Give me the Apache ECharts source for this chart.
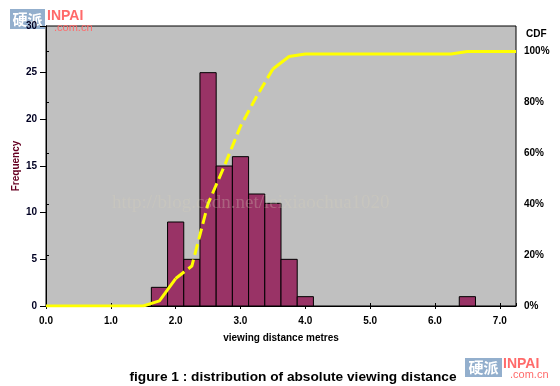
<!DOCTYPE html>
<html>
<head>
<meta charset="utf-8">
<script src="https://cdn.jsdelivr.net/npm/echarts@6/dist/echarts.min.js"></script>
<style>
html,body{margin:0;padding:0;background:#fff;}
#c{width:560px;height:386px;}
</style>
</head>
<body>
<div id="c"></div>
<script>
// Histogram bins (centre of each 0.25 m bin) and frequencies
const binCenters = [1.75, 2.0, 2.25, 2.5, 2.75, 3.0, 3.25, 3.5, 3.75, 4.0, 6.5];
const frequency  = [2, 9, 5, 25, 15, 16, 12, 11, 5, 1, 1];
const binWidth = 0.25;

// CDF curve (percent)
const cdfX = [0, 1.5, 1.75, 2.0, 2.25, 2.5, 2.75, 3.0, 3.25, 3.5, 3.75, 4.0, 6.25, 6.5, 7.25];
const cdfY = [0, 0, 2, 10.8, 15.7, 40.2, 54.9, 70.6, 82.4, 93.1, 98, 99, 99, 100, 100];

const xTicks = [0, 1, 2, 3, 4, 5, 6, 7];
const freqTicks = [0, 5, 10, 15, 20, 25, 30];
const cdfTicks = [0, 20, 40, 60, 80, 100];

const FONT = '"Liberation Sans", Arial, sans-serif';

const barData = binCenters.map((x, i) => [x, frequency[i]]);
const cdfPts = cdfX.map((x, i) => [x, cdfY[i]]);
// split into solid / dashed / solid parts as drawn in the reference
const cdfA = cdfPts.filter(p => p[0] <= 2.0);
const cdfB = cdfPts.filter(p => p[0] >= 2.0 && p[0] <= 3.5);
const cdfC = cdfPts.filter(p => p[0] >= 3.5);

const chart = echarts.init(document.getElementById('c'), null, {renderer: 'canvas'});

const labelStyle = {fontFamily: FONT, fontWeight: 'bold', fontSize: 10, color: '#000'};

chart.setOption({
  animation: false,
  backgroundColor: '#fff',
  grid: {left: 46, right: 44, top: 26, bottom: 80, show: true,
         backgroundColor: '#c0c0c0', borderColor: '#000', borderWidth: 1},
  title: {
    text: 'figure 1 : distribution of absolute viewing distance',
    left: 288, top: 365, textAlign: 'center',
    textStyle: {fontFamily: FONT, fontWeight: 'bold', fontSize: 13.7, color: '#000'}
  },
  xAxis: [{
    type: 'value', min: 0, max: 7.25, interval: 1,
    name: 'viewing distance metres', nameLocation: 'middle', nameGap: 27,
    nameTextStyle: {fontFamily: FONT, fontWeight: 'bold', fontSize: 10, color: '#000'},
    axisLine: {show: true, lineStyle: {color: '#000', width: 1}},
    axisTick: {show: true, length: 3, lineStyle: {color: '#000'}},
    axisLabel: Object.assign({}, labelStyle, {margin: 10, showMaxLabel: false,
      formatter: v => xTicks.indexOf(v) >= 0 ? v.toFixed(1) : ''}),
    splitLine: {show: false}
  }, {
    type: 'value', min: 0, max: 7.25, interval: 1, position: 'bottom',
    axisLine: {show: false},
    axisTick: {show: true, inside: true, length: 3, lineStyle: {color: '#000'}},
    axisLabel: {show: false}, splitLine: {show: false}
  }],
  yAxis: [{
    type: 'value', min: 0, max: 30, interval: 5, position: 'left',
    name: 'Frequency', nameLocation: 'middle', nameGap: 25, nameRotate: 90,
    nameMoveOverlap: false,
    nameTextStyle: {fontFamily: FONT, fontWeight: 'bold', fontSize: 10, color: '#660022'},
    axisLine: {show: true, lineStyle: {color: '#000'}},
    axisTick: {show: true, length: 6, lineStyle: {color: '#000'}},
    axisLabel: Object.assign({}, labelStyle, {margin: 9, color: '#000022',
      formatter: v => freqTicks.indexOf(v) >= 0 ? String(v) : ''}),
    splitLine: {show: false}
  }, {
    type: 'value', min: 0, max: 110, interval: 20, position: 'right',
    axisLine: {show: true, lineStyle: {color: '#000'}},
    axisTick: {show: true, length: 3, lineStyle: {color: '#000'}},
    axisLabel: Object.assign({}, labelStyle, {margin: 8, showMaxLabel: false,
      formatter: v => cdfTicks.indexOf(v) >= 0 ? v + '%' : ''}),
    splitLine: {show: false}
  }],
  series: [{
    type: 'custom', xAxisIndex: 0, yAxisIndex: 0, data: barData, z: 2,
    renderItem: function (params, api) {
      const x = api.value(0), y = api.value(1);
      const p1 = api.coord([x - binWidth / 2, y]);
      const p2 = api.coord([x + binWidth / 2, 0]);
      return {type: 'rect',
        shape: {x: p1[0], y: p1[1], width: p2[0] - p1[0], height: p2[1] - p1[1]},
        style: {fill: '#993366', stroke: '#000', lineWidth: 1}};
    }
  }, {
    type: 'line', xAxisIndex: 0, yAxisIndex: 1, data: cdfA, showSymbol: false, z: 5,
    lineStyle: {color: '#ffff00', width: 3}
  }, {
    type: 'line', xAxisIndex: 0, yAxisIndex: 1, data: cdfB, showSymbol: false, z: 5,
    lineStyle: {color: '#ffff00', width: 3, type: [11, 5]}
  }, {
    type: 'line', xAxisIndex: 0, yAxisIndex: 1, data: cdfC, showSymbol: false, z: 5,
    lineStyle: {color: '#ffff00', width: 3}
  }],
  graphic: [
    {type: 'text', left: 526, top: 29, z: 10,
     style: {text: 'CDF', fontFamily: FONT, fontWeight: 'bold', fontSize: 10, fill: '#000'}},
    {type: 'text', left: 112, top: 194, z: 20, silent: true,
     style: {text: 'http://blog.csdn.net/leixiaochua1020', fontFamily: '"Liberation Serif", serif',
             fontSize: 19, fill: 'rgba(215,210,185,0.3)'}},
    // watermark logo top-left
    {type: 'group', left: 10, top: 9, z: 30, silent: true, children: [
      {type: 'rect', shape: {x: 0, y: 0, width: 35, height: 20},
       style: {fill: '#93afcd'}},
      {type: 'text', style: {x: 17.5, y: 10, text: '硬派', align: 'center', verticalAlign: 'middle',
        fontFamily: '"Noto Sans CJK SC"', fontWeight: 'bold', fontSize: 15, fill: '#fff'}},
      {type: 'text', style: {x: 37, y: 0, text: 'INPAI', fontFamily: FONT, fontWeight: 'bold',
        fontSize: 14, fill: '#ff6a6a'}},
      {type: 'text', style: {x: 44, y: 13, text: '.com.cn', fontFamily: FONT,
        fontSize: 11, fill: '#ff6a6a'}}
    ]},
    // watermark logo bottom-right
    {type: 'group', left: 465, top: 357, z: 30, silent: true, children: [
      {type: 'rect', shape: {x: 0, y: 0, width: 37, height: 19},
       style: {fill: '#93afcd'}},
      {type: 'text', style: {x: 18.5, y: 9.5, text: '硬派', align: 'center', verticalAlign: 'middle',
        fontFamily: '"Noto Sans CJK SC"', fontWeight: 'bold', fontSize: 15, fill: '#fff'}},
      {type: 'text', style: {x: 38, y: -1, text: 'INPAI', fontFamily: FONT, fontWeight: 'bold',
        fontSize: 14, fill: '#ff6a6a'}},
      {type: 'text', style: {x: 45, y: 11, text: '.com.cn', fontFamily: FONT,
        fontSize: 11, fill: '#ff6a6a'}}
    ]}
  ]
});
</script>
</body>
</html>
